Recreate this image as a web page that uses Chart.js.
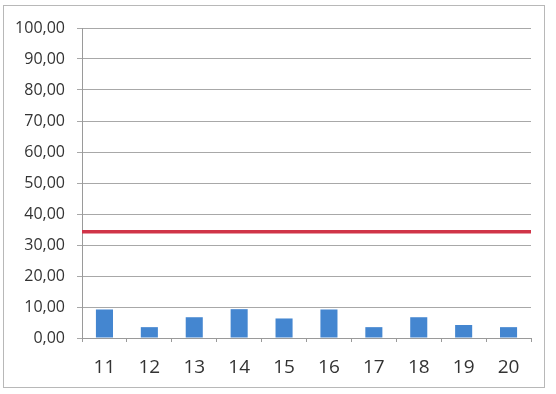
<!DOCTYPE html>
<html>
<head>
<meta charset="utf-8">
<script src="https://cdn.jsdelivr.net/npm/chart.js@4/dist/chart.umd.min.js"></script>
<style>
  html, body { margin: 0; padding: 0; background: #ffffff; }
  #wrap { width: 556px; height: 394px; position: relative; }
</style>
</head>
<body>
<div id="wrap"><canvas id="c" width="556" height="394"></canvas></div>
<script>
// Categories and values
const categories = ['11', '12', '13', '14', '15', '16', '17', '18', '19', '20'];
const barValues = [9.2, 3.5, 6.7, 9.3, 6.3, 9.2, 3.5, 6.7, 4.2, 3.5];
const lineValues = [34.3, 34.3, 34.3, 34.3, 34.3, 34.3, 34.3, 34.3, 34.3, 34.3];
const yTicks = { min: 0, max: 100, step: 10 };

const fmt = v => Number(v).toFixed(2).replace('.', ',');

// White background and light frame round the whole chart
const framePlugin = {
  id: 'frame',
  beforeDraw(chart) {
    const ctx = chart.ctx;
    ctx.save();
    ctx.fillStyle = '#ffffff';
    ctx.fillRect(0, 0, chart.width, chart.height);
    ctx.strokeStyle = '#b8b8b8';
    ctx.lineWidth = 1;
    ctx.strokeRect(3.5, 5.5, 541, 382);
    ctx.restore();
  }
};

new Chart(document.getElementById('c'), {
  type: 'bar',
  data: {
    labels: categories,
    datasets: [
      {
        type: 'line',
        data: lineValues,
        xAxisID: 'xl',
        borderColor: '#d03448',
        borderWidth: 3.5,
        pointRadius: 0,
        tension: 0,
        order: 0
      },
      {
        type: 'bar',
        data: barValues,
        backgroundColor: '#4486d0',
        borderWidth: 0,
        grouped: false,
        categoryPercentage: 1,
        barPercentage: 0.38,
        order: 1
      }
    ]
  },
  options: {
    responsive: false,
    animation: false,
    layout: { padding: { left: 0, right: 25, top: 28, bottom: 0 } },
    plugins: { legend: { display: false }, tooltip: { enabled: false } },
    scales: {
      x: {
        type: 'category',
        offset: true,
        grid: { offset: true, drawOnChartArea: false, drawTicks: true, tickLength: 4, color: '#9a9a9a' },
        border: { display: true, color: '#9a9a9a' },
        ticks: { color: '#333333', font: { family: 'Open Sans', size: 19 }, padding: 14, maxRotation: 0 },
        afterFit(scale) { scale.height = 56; }
      },
      xl: {
        type: 'category',
        labels: categories,
        offset: false,
        display: false
      },
      y: {
        min: yTicks.min,
        max: yTicks.max,
        ticks: {
          stepSize: yTicks.step,
          color: '#333333',
          font: { family: 'Open Sans', size: 16 },
          padding: 12,
          callback: v => fmt(v)
        },
        grid: { color: '#a8a8a8', lineWidth: 1, tickLength: 5 },
        border: { display: true, color: '#9a9a9a' },
        afterFit(scale) { scale.width = 82; }
      }
    }
  },
  plugins: [framePlugin]
});
</script>
</body>
</html>
